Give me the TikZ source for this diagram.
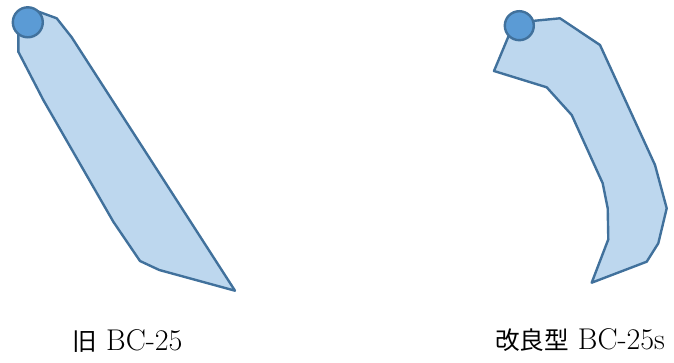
\documentclass[tikz,border=0pt]{standalone}
\usepackage{fontspec}
\usepackage{xcolor}
\usepackage{tikz}
\usetikzlibrary{positioning}
\newfontfamily\cjk[Scale=0.82]{Noto Sans CJK JP}
\definecolor{bladefill}{HTML}{BDD7EE}
\definecolor{bladeline}{HTML}{41719C}
\definecolor{knobfill}{HTML}{5B9BD5}

\tikzset{
  blade/.style={fill=bladefill, draw=bladeline, line width=2.4pt, line join=round},
  knob/.style={circle, fill=knobfill, draw=bladeline, line width=2.4pt, inner sep=0pt},
  caption/.style={font=\fontsize{30}{34}\selectfont, inner sep=0pt}
}

\begin{document}
\begin{tikzpicture}[x=1pt, y=1pt]
  \useasboundingbox (0,0) rectangle (674,362);

  % old blade
  \draw[blade] (34,352) -- (56.7,343.7) -- (71.7,324.7) -- (235,71.3)
    -- (159.3,92) -- (140,101) -- (113.3,140.3) -- (43.3,262)
    -- (18.3,310.3) -- (18.3,329) -- cycle;
  \node[knob, minimum size=30pt] (oldknob) at (27.8,339.7) {};

  % improved blade
  \draw[blade] (535,341.3) -- (560,343.7) -- (600,317) -- (655,197)
    -- (666.7,153.7) -- (658.3,118.7) -- (646.7,100.3) -- (591.7,79.3)
    -- (608.3,122.7) -- (607.7,153.7) -- (602.7,178.7) -- (571.7,247)
    -- (546.7,274.7) -- (494,291) -- (508.3,325.3) -- cycle;
  \node[knob, minimum size=29pt] (newknob) at (519.3,336.3) {};

  % captions
  \node[caption] (oldlabel) at (127.5,21) {{\cjk 旧} BC-25};
  \node[caption] (newlabel) at (580,22) {{\cjk 改良型} BC-25s};
\end{tikzpicture}
\end{document}
